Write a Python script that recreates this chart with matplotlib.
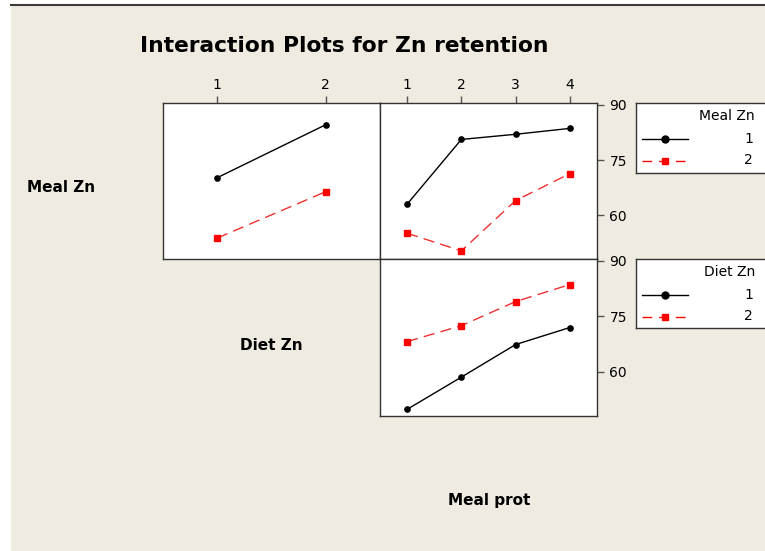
import matplotlib.pyplot as plt
from matplotlib.lines import Line2D
from matplotlib.patches import Rectangle

# datos (medias de Zn retention)
diet_zn = [1, 2]
meal_prot = [1, 2, 3, 4]
meal_zn1_por_diet = [70.2, 84.6]
meal_zn2_por_diet = [53.8, 66.4]
meal_zn1_por_prot = [63.0, 80.6, 82.0, 83.6]
meal_zn2_por_prot = [55.1, 50.3, 64.0, 71.3]
diet_zn1_por_prot = [49.9, 58.6, 67.4, 72.0]
diet_zn2_por_prot = [68.2, 72.5, 79.0, 83.6]
y_ticks = [60, 75, 90]

W, H = 765, 551
fondo = "#efebe1"
fig = plt.figure(figsize=(W / 100, H / 100), dpi=100, facecolor="white")

# fondo beige con linea superior
fig.patches.append(Rectangle((11 / W, 0), 1 - 11 / W, 1 - 6 / H, transform=fig.transFigure,
                             facecolor=fondo, edgecolor="none", zorder=-5))
fig.lines.append(Line2D([11 / W, 1], [1 - 5 / H, 1 - 5 / H], transform=fig.transFigure,
                        color="#3a3a3a", lw=1.5, zorder=-4))


def caja(x0, y0, x1, y1):
    return [x0 / W, 1 - y1 / H, (x1 - x0) / W, (y1 - y0) / H]


def estilo(ax, xs, xlim, top_ticks, right_ticks):
    ax.set_xlim(*xlim)
    ax.set_ylim(48.1, 90.5)
    ax.set_facecolor("white")
    for s in ax.spines.values():
        s.set_color("#333333")
        s.set_linewidth(1.0)
    ax.xaxis.tick_top()
    ax.yaxis.tick_right()
    ax.tick_params(axis="both", direction="out", length=5, width=1, color="#555555",
                   labelsize=10, pad=3)
    if top_ticks:
        ax.set_xticks(xs)
    else:
        ax.set_xticks([])
    if right_ticks:
        ax.set_yticks(y_ticks)
        ax.tick_params(axis="y", pad=4)
    else:
        ax.set_yticks([])


def series(ax, xs, y1, y2):
    ax.plot(xs, y1, color="black", lw=1, marker="o", ms=3.8, clip_on=False)
    ax.plot(xs, y2, color="#f03030", lw=1, ls=(0, (8, 4.5)), marker="s", ms=4,
            mec="red", mfc="red", clip_on=False)


ax1 = fig.add_axes(caja(163, 103, 380, 259))
estilo(ax1, diet_zn, (0.5, 2.5), True, False)
series(ax1, diet_zn, meal_zn1_por_diet, meal_zn2_por_diet)

ax2 = fig.add_axes(caja(380, 103, 597, 259))
estilo(ax2, meal_prot, (0.5, 4.5), True, True)
series(ax2, meal_prot, meal_zn1_por_prot, meal_zn2_por_prot)

ax3 = fig.add_axes(caja(380, 259, 597, 416))
estilo(ax3, meal_prot, (0.5, 4.5), False, True)
series(ax3, meal_prot, diet_zn1_por_prot, diet_zn2_por_prot)


# leyendas tipo Minitab
def leyenda(y0, y1, titulo):
    lg = fig.add_axes(caja(636, y0, 775, y1))
    lg.set_xlim(0, 139)
    lg.set_ylim(y1 - y0, 0)
    lg.set_xticks([])
    lg.set_yticks([])
    lg.set_facecolor("white")
    for s in lg.spines.values():
        s.set_color("#333333")
        s.set_linewidth(1.0)
    lg.text(119, 13, titulo, ha="right", va="center", fontsize=10)
    lg.plot([6, 52], [36, 36], color="black", lw=1)
    lg.plot([29], [36], color="black", marker="o", ms=5)
    lg.plot([6, 52], [57.5, 57.5], color="red", lw=1, ls=(0, (7, 5)))
    lg.plot([29], [57.5], color="red", marker="s", ms=5)
    lg.text(117, 36, "1", ha="right", va="center", fontsize=10)
    lg.text(117, 57.5, "2", ha="right", va="center", fontsize=10)


leyenda(103, 173, "Meal Zn")
leyenda(259, 328, "Diet Zn")

fig.text(344 / W, 1 - 46 / H, "Interaction Plots for Zn retention", ha="center", va="center",
         fontsize=15.7, fontweight="bold")
fig.text(61 / W, 1 - 187 / H, "Meal Zn", ha="center", va="center", fontsize=11, fontweight="bold")
fig.text(271 / W, 1 - 346 / H, "Diet Zn", ha="center", va="center", fontsize=11, fontweight="bold")
fig.text(489 / W, 1 - 501 / H, "Meal prot", ha="center", va="center", fontsize=11, fontweight="bold")

fig.savefig("out.png", dpi=100, facecolor=fig.get_facecolor())
